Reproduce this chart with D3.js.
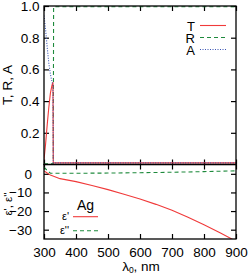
<!DOCTYPE html>
<html>
<head>
<meta charset="utf-8">
<script src="https://cdn.jsdelivr.net/npm/d3@7"></script>
<style>
  body { margin: 0; background: #fff; }
  svg { display: block; font-family: "Liberation Sans", Arial, sans-serif; }
</style>
</head>
<body>
<div id="chart"></div>
<script>
// transmission / reflection / absorption (top panel)
const lambdaTRA = [300, 305, 310, 315, 320, 325, 328, 329, 330, 350, 400, 500, 600, 700, 800, 900];
const T = [0.03, 0.13, 0.25, 0.36, 0.45, 0.50, 0.52, 0.01, 0.01, 0.01, 0.01, 0.01, 0.01, 0.01, 0.01, 0.01];
const R = [0.005, 0.005, 0.005, 0.005, 0.005, 0.005, 0.005, 0.005, 0.995, 0.995, 0.995, 0.995, 0.995, 0.995, 0.995, 0.995];
const A = [0.94, 0.85, 0.74, 0.64, 0.57, 0.52, 0.50, 0.01, 0.01, 0.01, 0.01, 0.01, 0.01, 0.01, 0.01, 0.01];

// Ag permittivity (bottom panel)
const lambdaEps = [300, 310, 320, 330, 350, 400, 450, 500, 550, 600, 650, 700, 750, 800, 850, 900];
const eps1 = [1.6, 0.4, -0.7, -1.3, -2.6, -4.2, -6.3, -8.5, -11.0, -13.5, -16.4, -19.6, -23.3, -27.4, -31.6, -36.2];
const eps2 = [3.6, 1.8, 0.3, 0.3, 0.3, 0.3, 0.35, 0.4, 0.5, 0.6, 0.7, 0.85, 1.0, 1.2, 1.4, 1.6];

const xTicks = [300, 400, 500, 600, 700, 800, 900];
const yTicksTop = [0.2, 0.4, 0.6, 0.8, 1.0];
const yTicksBot = [0, -10, -20, -30];

var width = 250, height = 275;
var padLeft = 44, padRight = 236, topY = 6, midY = 164.5, botY = 239;

var cT = "#f03a3a", cR = "#1e8a3c", cA = "#3a55b4";

const svg = d3.select("#chart").append("svg")
    .attr("width", width)
    .attr("height", height);

var x = d3.scaleLinear().domain([300, 900]).range([padLeft, padRight]);
var yTop = d3.scaleLinear().domain([0, 1]).range([midY, topY]);
var yBot = d3.scaleLinear().domain([-35, 5]).range([botY, midY]);

var defs = svg.append("defs");
defs.append("clipPath").attr("id", "clipTop")
    .append("rect").attr("x", padLeft).attr("y", topY).attr("width", padRight - padLeft).attr("height", midY - topY);
defs.append("clipPath").attr("id", "clipBot")
    .append("rect").attr("x", padLeft).attr("y", midY).attr("width", padRight - padLeft).attr("height", botY - midY);

function styleAxis(g) {
    g.select(".domain").remove();
    g.selectAll("line").attr("stroke", "#000").attr("stroke-width", 1.2);
    g.selectAll("text").attr("font-size", 13.5).attr("fill", "#000");
}

// x axes (ticks pointing inward)
svg.append("g").attr("transform", "translate(0," + botY + ")")
    .call(d3.axisBottom(x).tickValues(xTicks).tickSize(-5).tickPadding(8).tickFormat(d3.format("d")))
    .call(styleAxis);
svg.append("g").attr("transform", "translate(0," + midY + ")")
    .call(d3.axisTop(x).tickValues(xTicks).tickSize(5).tickFormat(""))
    .call(styleAxis);
svg.append("g").attr("transform", "translate(0," + midY + ")")
    .call(d3.axisTop(x).tickValues(xTicks).tickSize(-5).tickFormat(""))
    .call(styleAxis);
svg.append("g").attr("transform", "translate(0," + topY + ")")
    .call(d3.axisTop(x).tickValues(xTicks).tickSize(-5).tickFormat(""))
    .call(styleAxis);

// y axes
svg.append("g").attr("transform", "translate(" + padLeft + ",0)")
    .call(d3.axisLeft(yTop).tickValues(yTicksTop).tickSize(-5).tickPadding(4.5).tickFormat(d3.format(".1f")))
    .call(styleAxis);
svg.append("g").attr("transform", "translate(" + padRight + ",0)")
    .call(d3.axisRight(yTop).tickValues(yTicksTop).tickSize(-5).tickFormat(""))
    .call(styleAxis);
svg.append("g").attr("transform", "translate(" + padLeft + ",0)")
    .call(d3.axisLeft(yBot).tickValues(yTicksBot).tickSize(-5).tickPadding(12).tickFormat(d3.format("d")))
    .call(styleAxis);
svg.append("g").attr("transform", "translate(" + padRight + ",0)")
    .call(d3.axisRight(yBot).tickValues(yTicksBot).tickSize(-5).tickFormat(""))
    .call(styleAxis);

// curves
function drawLine(clip, xs, ys, yScale, color, dash) {
    var pts = xs.map(function(d, i) { return [d, ys[i]]; });
    var line = d3.line()
        .x(function(d) { return x(d[0]); })
        .y(function(d) { return yScale(d[1]); });
    svg.append("path")
        .attr("clip-path", "url(#" + clip + ")")
        .attr("d", line(pts))
        .attr("fill", "none")
        .attr("stroke", color)
        .attr("stroke-width", 1.1)
        .attr("stroke-dasharray", dash);
}
drawLine("clipTop", lambdaTRA, R, yTop, cR, "4,3");
drawLine("clipTop", lambdaTRA, T, yTop, cT, null);
drawLine("clipTop", lambdaTRA, A, yTop, cA, "1,1.5");
drawLine("clipBot", lambdaEps, eps2, yBot, cR, "4,3");
drawLine("clipBot", lambdaEps, eps1, yBot, cT, null);

// frames
svg.append("rect").attr("x", padLeft).attr("y", topY).attr("width", padRight - padLeft).attr("height", midY - topY)
    .attr("fill", "none").attr("stroke", "#000").attr("stroke-width", 1.3);
svg.append("rect").attr("x", padLeft).attr("y", midY).attr("width", padRight - padLeft).attr("height", botY - midY)
    .attr("fill", "none").attr("stroke", "#000").attr("stroke-width", 1.3);

// legend, top panel
var topLegend = [["T", cT, null], ["R", cR, "4,3"], ["A", cA, "1,1.5"]];
topLegend.forEach(function(d, i) {
    var yy = 31 + 12 * i;
    svg.append("text").attr("x", 195).attr("y", yy).attr("text-anchor", "end")
        .attr("font-size", 13).text(d[0]);
    svg.append("line").attr("x1", 200).attr("x2", 226).attr("y1", yy - 5.5).attr("y2", yy - 5.5)
        .attr("stroke", d[1]).attr("stroke-width", 1.1).attr("stroke-dasharray", d[2]);
});

// legend, bottom panel
svg.append("text").attr("x", 85.5).attr("y", 210).attr("text-anchor", "middle")
    .attr("font-size", 14).text("Ag");
var botLegend = [["ε'", cT, null], ["ε''", cR, "4,3"]];
botLegend.forEach(function(d, i) {
    var yy = 220 + 14 * i;
    svg.append("text").attr("x", 69).attr("y", yy).attr("text-anchor", "end")
        .attr("font-size", 11).text(d[0]);
    svg.append("line").attr("x1", 73).attr("x2", 98).attr("y1", yy - 3.3).attr("y2", yy - 3.3)
        .attr("stroke", d[1]).attr("stroke-width", 1.1).attr("stroke-dasharray", d[2]);
});

// axis titles
svg.append("text").attr("transform", "translate(12,85) rotate(-90)")
    .attr("text-anchor", "middle").attr("font-size", 13.5).text("T, R, A");
svg.append("text").attr("transform", "translate(12,204) rotate(-90)")
    .attr("text-anchor", "middle").attr("font-size", 11.5).text("ε', ε''");

var xt = svg.append("text").attr("x", 141).attr("y", 271).attr("text-anchor", "middle")
    .attr("font-size", 13.5);
xt.append("tspan").text("λ");
xt.append("tspan").attr("font-size", 8.5).attr("dy", 2).text("0");
xt.append("tspan").attr("dy", -2).text(", nm");
</script>
</body>
</html>
